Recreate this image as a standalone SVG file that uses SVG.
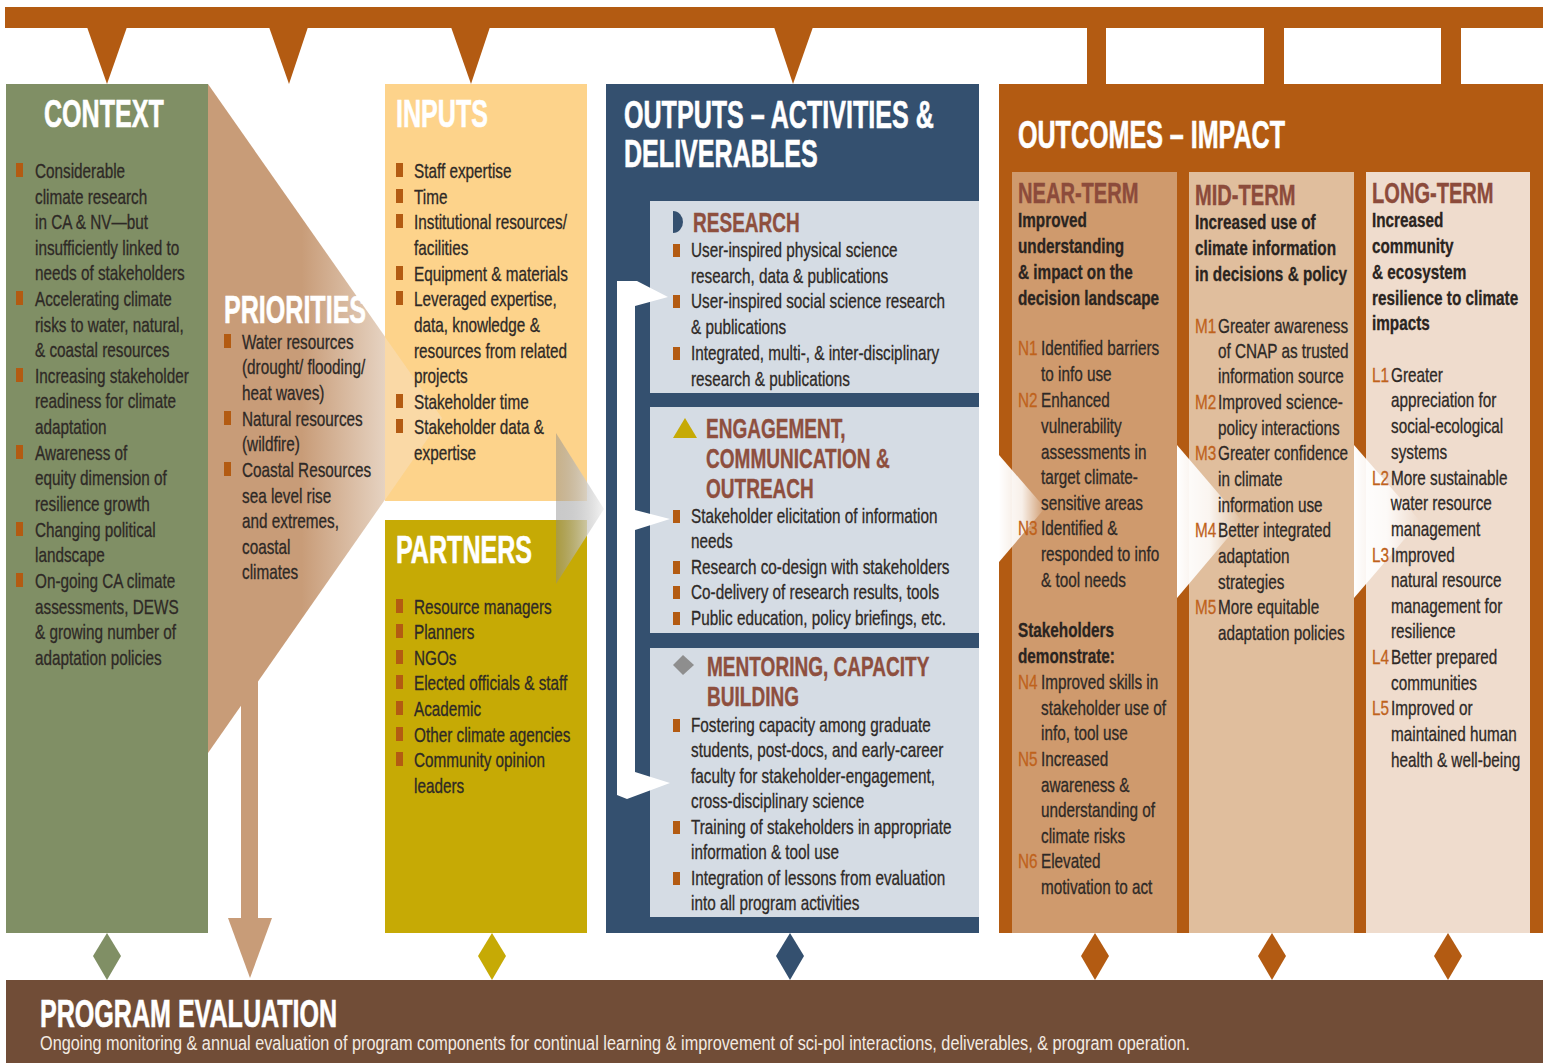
<svg xmlns="http://www.w3.org/2000/svg" width="1551" height="1063" viewBox="0 0 1551 1063">
<defs>
<style>
.b{font-family:"Liberation Sans",Arial,sans-serif;font-size:20px;fill:#2e2926;stroke:#2e2926;stroke-width:.3;transform-box:fill-box;transform-origin:0 0;transform:scaleX(.765)}
.k{font-family:"Liberation Sans",Arial,sans-serif;font-size:20px;font-weight:700;fill:#2a2420;stroke:#2a2420;stroke-width:.3;transform-box:fill-box;transform-origin:0 0;transform:scaleX(.765)}
.n{font-family:"Liberation Sans",Arial,sans-serif;font-size:20px;fill:#BF621C;stroke:#BF621C;stroke-width:.3;transform-box:fill-box;transform-origin:0 0;transform:scaleX(.765)}
.h{font-family:"Liberation Sans",Arial,sans-serif;font-size:38px;font-weight:700;fill:#fff;stroke:#fff;stroke-width:.6;transform-box:fill-box;transform-origin:0 0;transform:scaleX(.66)}
.s{font-family:"Liberation Sans",Arial,sans-serif;font-size:28px;font-weight:700;fill:#8E4F3E;stroke:#8E4F3E;stroke-width:.4;transform-box:fill-box;transform-origin:0 0;transform:scaleX(.68)}
.t{font-family:"Liberation Sans",Arial,sans-serif;font-size:30px;font-weight:700;fill:#8C4B3B;stroke:#8C4B3B;stroke-width:.4;transform-box:fill-box;transform-origin:0 0;transform:scaleX(.67)}
.bl{fill:#B35B12}
.or{fill:#B35B12}
.pnl{fill:#D5DCE4}
</style>
<linearGradient id="gPri" gradientUnits="userSpaceOnUse" x1="208" y1="0" x2="442" y2="0">
<stop offset="0" stop-color="#C89C78"/>
<stop offset="0.4" stop-color="#C89C78"/>
<stop offset="0.76" stop-color="#E6D3C2"/>
<stop offset="1" stop-color="#F0E4D8"/>
</linearGradient>
<linearGradient id="gGray" x1="0" y1="0" x2="1" y2="0">
<stop offset="0" stop-color="#8a8a8a" stop-opacity="0.45"/>
<stop offset="1" stop-color="#f4f4f4" stop-opacity="0.95"/>
</linearGradient>
<linearGradient id="gWhite" x1="0" y1="0" x2="1" y2="0">
<stop offset="0" stop-color="#fff" stop-opacity="1"/>
<stop offset="0.5" stop-color="#fff" stop-opacity="0.85"/>
<stop offset="1" stop-color="#fff" stop-opacity="0"/>
</linearGradient>
</defs>
<rect width="1551" height="1063" fill="#fff"/>

<g id="connectors">
<rect class="or" x="5" y="7" width="1538" height="21"/>
<polygon class="or" points="87,27 127,27 107,84"/>
<polygon class="or" points="269,27 308,27 289,84"/>
<polygon class="or" points="451,27 490,27 471,84"/>
<polygon class="or" points="774,27 813,27 793,84"/>
<rect class="or" x="1087" y="27" width="19" height="58"/>
<rect class="or" x="1264" y="27" width="20" height="58"/>
<rect class="or" x="1441" y="27" width="20" height="58"/>
<polygon fill="#808F65" points="107,933 121,956 107,980 93,956"/>
<polygon fill="#C6AA05" points="492,933 506,956 492,980 478,956"/>
<polygon fill="#34506F" points="790,933 804,956 790,980 776,956"/>
<polygon class="or" points="1095,933 1109,956 1095,980 1081,956"/>
<polygon class="or" points="1272,933 1286,956 1272,980 1258,956"/>
<polygon class="or" points="1448,933 1462,956 1448,980 1434,956"/>
</g>

<g id="context">
<rect x="6" y="84" width="202" height="849" fill="#808F65"/>
<text class="h" x="44" y="127">CONTEXT</text>
<rect class="bl" x="16" y="163" width="7" height="14"/>
<rect class="bl" x="16" y="291" width="7" height="14"/>
<rect class="bl" x="16" y="368" width="7" height="14"/>
<rect class="bl" x="16" y="445" width="7" height="14"/>
<rect class="bl" x="16" y="522" width="7" height="14"/>
<rect class="bl" x="16" y="573" width="7" height="14"/>
<text class="b" x="35" y="178">Considerable</text>
<text class="b" x="35" y="204">climate research</text>
<text class="b" x="35" y="229">in CA &amp; NV—but</text>
<text class="b" x="35" y="255">insufficiently linked to</text>
<text class="b" x="35" y="280">needs of stakeholders</text>
<text class="b" x="35" y="306">Accelerating climate</text>
<text class="b" x="35" y="332">risks to water, natural,</text>
<text class="b" x="35" y="357">&amp; coastal resources</text>
<text class="b" x="35" y="383">Increasing stakeholder</text>
<text class="b" x="35" y="408">readiness for climate</text>
<text class="b" x="35" y="434">adaptation</text>
<text class="b" x="35" y="460">Awareness of</text>
<text class="b" x="35" y="485">equity dimension of</text>
<text class="b" x="35" y="511">resilience growth</text>
<text class="b" x="35" y="537">Changing political</text>
<text class="b" x="35" y="562">landscape</text>
<text class="b" x="35" y="588">On-going CA climate</text>
<text class="b" x="35" y="614">assessments, DEWS</text>
<text class="b" x="35" y="639">&amp; growing number of</text>
<text class="b" x="35" y="665">adaptation policies</text>
</g>

<g id="priorities">
<polygon fill="url(#gPri)" points="208,84 442,418 208,753"/>
<rect x="241" y="660" width="17" height="259" fill="#C89C78"/>
<polygon fill="#C89C78" points="228,918 272,918 250,978"/>
</g>

<g id="inputs">
<rect x="385" y="84" width="202" height="417" fill="#FDD38B"/>
<polygon fill="#F3E6DA" fill-opacity="0.35" points="385,337 442,418 385,500"/>
<text class="h" x="396" y="127">INPUTS</text>
<rect class="bl" x="396" y="163" width="7" height="14"/>
<rect class="bl" x="396" y="189" width="7" height="14"/>
<rect class="bl" x="396" y="214" width="7" height="14"/>
<rect class="bl" x="396" y="266" width="7" height="14"/>
<rect class="bl" x="396" y="291" width="7" height="14"/>
<rect class="bl" x="396" y="394" width="7" height="14"/>
<rect class="bl" x="396" y="419" width="7" height="14"/>
<text class="b" x="414" y="178">Staff expertise</text>
<text class="b" x="414" y="204">Time</text>
<text class="b" x="414" y="229">Institutional resources/</text>
<text class="b" x="414" y="255">facilities</text>
<text class="b" x="414" y="281">Equipment &amp; materials</text>
<text class="b" x="414" y="306">Leveraged expertise,</text>
<text class="b" x="414" y="332">data, knowledge &amp;</text>
<text class="b" x="414" y="358">resources from related</text>
<text class="b" x="414" y="383">projects</text>
<text class="b" x="414" y="409">Stakeholder time</text>
<text class="b" x="414" y="434">Stakeholder data &amp;</text>
<text class="b" x="414" y="460">expertise</text>
</g>

<g id="priorities-text">
<text class="h" x="224" y="323">PRIORITIES</text>
<rect class="bl" x="224" y="334" width="7" height="14"/>
<rect class="bl" x="224" y="411" width="7" height="14"/>
<rect class="bl" x="224" y="462" width="7" height="14"/>
<text class="b" x="242" y="349">Water resources</text>
<text class="b" x="242" y="374">(drought/ flooding/</text>
<text class="b" x="242" y="400">heat waves)</text>
<text class="b" x="242" y="426">Natural resources</text>
<text class="b" x="242" y="451">(wildfire)</text>
<text class="b" x="242" y="477">Coastal Resources</text>
<text class="b" x="242" y="503">sea level rise</text>
<text class="b" x="242" y="528">and extremes,</text>
<text class="b" x="242" y="554">coastal</text>
<text class="b" x="242" y="579">climates</text>
</g>

<g id="partners">
<rect x="385" y="520" width="202" height="413" fill="#C6AA05"/>
<text class="h" x="396" y="563">PARTNERS</text>
<rect class="bl" x="396" y="599" width="7" height="14"/>
<rect class="bl" x="396" y="624" width="7" height="14"/>
<rect class="bl" x="396" y="650" width="7" height="14"/>
<rect class="bl" x="396" y="675" width="7" height="14"/>
<rect class="bl" x="396" y="701" width="7" height="14"/>
<rect class="bl" x="396" y="727" width="7" height="14"/>
<rect class="bl" x="396" y="752" width="7" height="14"/>
<text class="b" x="414" y="614">Resource managers</text>
<text class="b" x="414" y="639">Planners</text>
<text class="b" x="414" y="665">NGOs</text>
<text class="b" x="414" y="690">Elected officials &amp; staff</text>
<text class="b" x="414" y="716">Academic</text>
<text class="b" x="414" y="742">Other climate agencies</text>
<text class="b" x="414" y="767">Community opinion</text>
<text class="b" x="414" y="793">leaders</text>
</g>

<g id="input-arrow">
<polygon fill="url(#gGray)" points="556,433 604,509 556,584"/>
</g>

<g id="outputs">
<rect x="606" y="84" width="373" height="849" fill="#34506F"/>
<text class="h" x="624" y="128">OUTPUTS – ACTIVITIES &amp;</text>
<text class="h" x="624" y="167">DELIVERABLES</text>
<g id="research">
<rect class="pnl" x="650" y="201" width="329" height="192"/>
<path d="M673,211 A10,11 0 0 1 673,233 Z" fill="#34506F"/>
<text class="s" x="693" y="232">RESEARCH</text>
<rect class="bl" x="673" y="244" width="7" height="13"/>
<rect class="bl" x="673" y="295" width="7" height="13"/>
<rect class="bl" x="673" y="347" width="7" height="13"/>
<text class="b" x="691" y="257">User-inspired physical science</text>
<text class="b" x="691" y="283">research, data &amp; publications</text>
<text class="b" x="691" y="308">User-inspired social science research</text>
<text class="b" x="691" y="334">&amp; publications</text>
<text class="b" x="691" y="360">Integrated, multi-, &amp; inter-disciplinary</text>
<text class="b" x="691" y="386">research &amp; publications</text>
</g>
<g id="engagement">
<rect class="pnl" x="650" y="407" width="329" height="226"/>
<polygon fill="#C6AA05" points="673,438 697,438 685,418"/>
<text class="s" x="706" y="438">ENGAGEMENT,</text>
<text class="s" x="706" y="468">COMMUNICATION &amp;</text>
<text class="s" x="706" y="498">OUTREACH</text>
<rect class="bl" x="673" y="510" width="7" height="13"/>
<rect class="bl" x="673" y="561" width="7" height="13"/>
<rect class="bl" x="673" y="586" width="7" height="13"/>
<rect class="bl" x="673" y="612" width="7" height="13"/>
<text class="b" x="691" y="523">Stakeholder elicitation of information</text>
<text class="b" x="691" y="548">needs</text>
<text class="b" x="691" y="574">Research co-design with stakeholders</text>
<text class="b" x="691" y="599">Co-delivery of research results, tools</text>
<text class="b" x="691" y="625">Public education, policy briefings, etc.</text>
</g>
<g id="mentoring">
<rect class="pnl" x="650" y="648" width="329" height="269"/>
<polygon fill="#8E8E8E" points="673,665 683,655 694,665 683,675"/>
<text class="s" x="707" y="676">MENTORING, CAPACITY</text>
<text class="s" x="707" y="706">BUILDING</text>
<rect class="bl" x="673" y="719" width="7" height="13"/>
<rect class="bl" x="673" y="821" width="7" height="13"/>
<rect class="bl" x="673" y="872" width="7" height="13"/>
<text class="b" x="691" y="732">Fostering capacity among graduate</text>
<text class="b" x="691" y="757">students, post-docs, and early-career</text>
<text class="b" x="691" y="783">faculty for stakeholder-engagement,</text>
<text class="b" x="691" y="808">cross-disciplinary science</text>
<text class="b" x="691" y="834">Training of stakeholders in appropriate</text>
<text class="b" x="691" y="859">information &amp; tool use</text>
<text class="b" x="691" y="885">Integration of lessons from evaluation</text>
<text class="b" x="691" y="910">into all program activities</text>
</g>
<path id="feedback" fill="#fff" d="M617,281 L637,281 L668,297 L635,306 L635,510 L670,519 L635,530 L635,772 L670,783 L627,799 L617,795 Z"/>
</g>

<g id="outcomes">
<rect class="or" x="999" y="84" width="544" height="849"/>
<text class="h" x="1018" y="148">OUTCOMES – IMPACT</text>
<g id="near-term">
<rect x="1012" y="172" width="165" height="761" fill="#CF9A6D"/>
<polygon fill="url(#gWhite)" points="999,455 1045,508 999,562"/>
<text class="t" x="1018" y="203">NEAR-TERM</text>
<text class="k" x="1018" y="227">Improved</text>
<text class="k" x="1018" y="253">understanding</text>
<text class="k" x="1018" y="279">&amp; impact on the</text>
<text class="k" x="1018" y="305">decision landscape</text>
<text class="n" x="1018" y="355">N1</text>
<text class="b" x="1041" y="355">Identified barriers</text>
<text class="b" x="1041" y="381">to info use</text>
<text class="n" x="1018" y="407">N2</text>
<text class="b" x="1041" y="407">Enhanced</text>
<text class="b" x="1041" y="433">vulnerability</text>
<text class="b" x="1041" y="459">assessments in</text>
<text class="b" x="1041" y="484">target climate-</text>
<text class="b" x="1041" y="510">sensitive areas</text>
<text class="n" x="1018" y="535">N3</text>
<text class="b" x="1041" y="535">Identified &amp;</text>
<text class="b" x="1041" y="561">responded to info</text>
<text class="b" x="1041" y="587">&amp; tool needs</text>
<text class="k" x="1018" y="637">Stakeholders</text>
<text class="k" x="1018" y="663">demonstrate:</text>
<text class="n" x="1018" y="689">N4</text>
<text class="b" x="1041" y="689">Improved skills in</text>
<text class="b" x="1041" y="715">stakeholder use of</text>
<text class="b" x="1041" y="740">info, tool use</text>
<text class="n" x="1018" y="766">N5</text>
<text class="b" x="1041" y="766">Increased</text>
<text class="b" x="1041" y="792">awareness &amp;</text>
<text class="b" x="1041" y="817">understanding of</text>
<text class="b" x="1041" y="843">climate risks</text>
<text class="n" x="1018" y="868">N6</text>
<text class="b" x="1041" y="868">Elevated</text>
<text class="b" x="1041" y="894">motivation to act</text>
</g>
<g id="mid-term">
<rect x="1189" y="172" width="165" height="761" fill="#E0BE9D"/>
<polygon fill="url(#gWhite)" points="1177,445 1242,521 1177,598"/>
<text class="t" x="1195" y="205">MID-TERM</text>
<text class="k" x="1195" y="229">Increased use of</text>
<text class="k" x="1195" y="255">climate information</text>
<text class="k" x="1195" y="281">in decisions &amp; policy</text>
<text class="n" x="1195" y="333">M1</text>
<text class="b" x="1218" y="333">Greater awareness</text>
<text class="b" x="1218" y="358">of CNAP as trusted</text>
<text class="b" x="1218" y="383">information source</text>
<text class="n" x="1195" y="409">M2</text>
<text class="b" x="1218" y="409">Improved science-</text>
<text class="b" x="1218" y="435">policy interactions</text>
<text class="n" x="1195" y="460">M3</text>
<text class="b" x="1218" y="460">Greater confidence</text>
<text class="b" x="1218" y="486">in climate</text>
<text class="b" x="1218" y="512">information use</text>
<text class="n" x="1195" y="537">M4</text>
<text class="b" x="1218" y="537">Better integrated</text>
<text class="b" x="1218" y="563">adaptation</text>
<text class="b" x="1218" y="589">strategies</text>
<text class="n" x="1195" y="614">M5</text>
<text class="b" x="1218" y="614">More equitable</text>
<text class="b" x="1218" y="640">adaptation policies</text>
</g>
<g id="long-term">
<rect x="1366" y="172" width="164" height="761" fill="#EFDCCD"/>
<polygon fill="url(#gWhite)" points="1354,445 1420,521 1354,598"/>
<text class="t" x="1372" y="203">LONG-TERM</text>
<text class="k" x="1372" y="227">Increased</text>
<text class="k" x="1372" y="253">community</text>
<text class="k" x="1372" y="279">&amp; ecosystem</text>
<text class="k" x="1372" y="305">resilience to climate</text>
<text class="k" x="1372" y="330">impacts</text>
<text class="n" x="1372" y="382">L1</text>
<text class="b" x="1391" y="382">Greater</text>
<text class="b" x="1391" y="407">appreciation for</text>
<text class="b" x="1391" y="433">social-ecological</text>
<text class="b" x="1391" y="459">systems</text>
<text class="n" x="1372" y="485">L2</text>
<text class="b" x="1391" y="485">More sustainable</text>
<text class="b" x="1391" y="510">water resource</text>
<text class="b" x="1391" y="536">management</text>
<text class="n" x="1372" y="562">L3</text>
<text class="b" x="1391" y="562">Improved</text>
<text class="b" x="1391" y="587">natural resource</text>
<text class="b" x="1391" y="613">management for</text>
<text class="b" x="1391" y="638">resilience</text>
<text class="n" x="1372" y="664">L4</text>
<text class="b" x="1391" y="664">Better prepared</text>
<text class="b" x="1391" y="690">communities</text>
<text class="n" x="1372" y="715">L5</text>
<text class="b" x="1391" y="715">Improved or</text>
<text class="b" x="1391" y="741">maintained human</text>
<text class="b" x="1391" y="767">health &amp; well-being</text>
</g>
</g>

<g id="evaluation">
<rect x="6" y="980" width="1537" height="83" fill="#714D37"/>
<text class="h" x="40" y="1027">PROGRAM EVALUATION</text>
<text x="40" y="1050" font-family="Liberation Sans, Arial, sans-serif" font-size="20" fill="#F3EAE2" textLength="1150" lengthAdjust="spacingAndGlyphs">Ongoing monitoring &amp; annual evaluation of program components for continual learning &amp; improvement of sci-pol interactions, deliverables, &amp; program operation.</text>
</g>
</svg>
